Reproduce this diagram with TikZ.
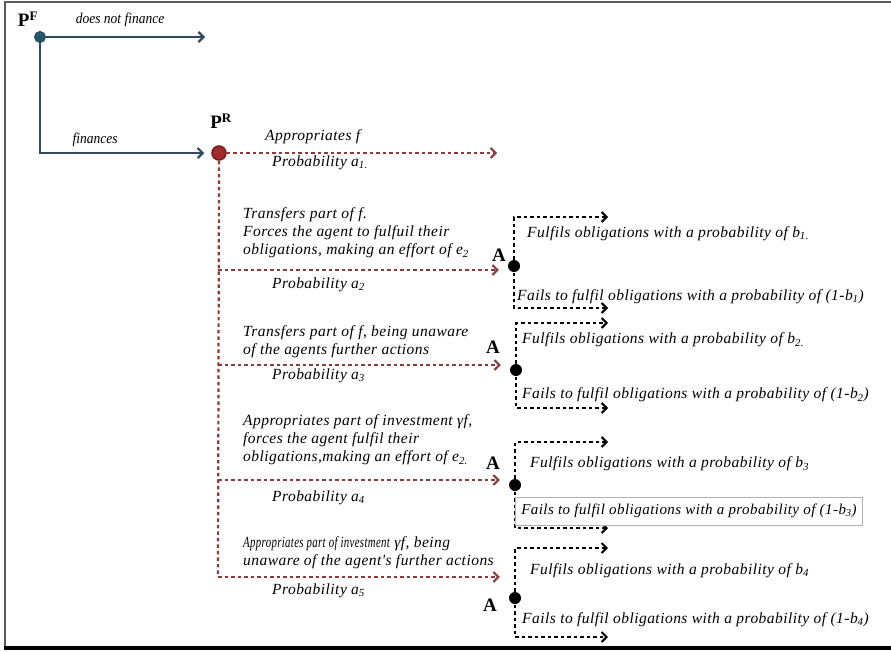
\documentclass[tikz,border=0pt]{standalone}
\usepackage{fontspec}
\setmainfont{Liberation Serif}
\newfontfamily\lbfont[LetterSpace=3]{Liberation Serif}
\usetikzlibrary{arrows.meta}
\definecolor{pfblue}{HTML}{2E4A5C}
\definecolor{pfdot}{HTML}{1F5A70}
\definecolor{prred}{HTML}{A32B2B}
\definecolor{dotred}{HTML}{8E3A3A}
\tikzset{
  lbl/.style={anchor=west, inner sep=0pt, font=\lbfont\fontsize{15.5}{18}\selectfont\itshape, align=left},
  tiny/.style={inner sep=0pt, font=\fontsize{15}{16}\selectfont\itshape},
  big/.style={inner sep=0pt, font=\fontsize{19}{22}\selectfont\bfseries},
  solidarr/.style={draw=pfblue, line width=2.6pt, -{Straight Barb[length=5pt,width=10pt,line width=2.2pt]}},
  redarr/.style={draw=dotred, line width=2.2pt, dash pattern=on 3.5pt off 3pt, -{Straight Barb[length=5pt,width=10pt,line width=2pt]}},
  redline/.style={draw=dotred, line width=2.2pt, dash pattern=on 3.5pt off 3pt},
  blkarr/.style={draw=black, line width=2.2pt, dash pattern=on 3.5pt off 3pt, -{Straight Barb[length=5pt,width=10pt,line width=2pt]}},
  adot/.style={circle, fill=black, inner sep=0pt, minimum size=12pt},
}
\begin{document}
\begin{tikzpicture}[x=1pt,y=-1pt]
\useasboundingbox (0,0) rectangle (891,651);
% frame
\draw[gray!70!black, line width=2pt] (5,648) -- (5,1.5) -- (891,1.5);
\draw[black, line width=3.5pt] (4,648) -- (891,648);

% P^F
\node[big] (pflab) at (28,19) {P\textsuperscript{\fontsize{13}{14}\selectfont F}};
\node[circle, fill=pfdot, draw=pfblue, line width=1pt, inner sep=0pt, minimum size=11pt] (pf) at (40,37) {};
\coordinate (nf) at (205,37);
\node[tiny, xscale=0.9] (nflab) at (120,20) {does not finance};
\node[tiny, xscale=0.9] (finlab) at (95,140) {finances};

% P^R
\node[circle, fill=prred, draw=prred!70!black, line width=1.5pt, inner sep=0pt, minimum size=14pt] (pr) at (219,153) {};
\node[big] (prlab) at (221,121) {P\textsuperscript{\fontsize{13}{14}\selectfont R}};

\draw[solidarr] (pf) -- (nf);
\draw[solidarr] (pf.center) |- ([xshift=-7pt]pr.west);

% red branches
\coordinate (b1e) at (497,153);
\coordinate (v2) at (218,270);
\coordinate (v3) at (218,365);
\coordinate (v4) at (218,480);
\coordinate (v5) at (218,577);
\draw[redline] (pr.south) -- (v5);
\draw[redarr] (pr.east) -- (b1e);

\node[lbl] (t1a) at (265,137) {Appropriates f};
\node[lbl] (t1b) at (272,163) {Probability a\textsubscript{1.}};

\node[lbl] (t2) at (243,233) {Transfers part of f.\\Forces the agent to fulfuil their\\obligations, making an effort of e\textsubscript{2}};
\node[lbl] (t2b) at (272,285) {Probability a\textsubscript{2}};

\node[lbl] (t3) at (243,342) {Transfers part of f, being unaware\\of the agents further actions};
\node[lbl] (t3b) at (272,376) {Probability a\textsubscript{3}};

\node[lbl] (t4) at (243,440) {Appropriates part of investment γf,\\forces the agent fulfil their\\obligations,making an effort of e\textsubscript{2.}};
\node[lbl] (t4b) at (272,498) {Probability a\textsubscript{4}};

\node[lbl] (t5) at (243,553) {\scalebox{0.7}[1]{Appropriates part of investment} γf, being\\unaware of the agent's further actions};
\node[lbl] (t5b) at (272,591) {Probability a\textsubscript{5}};

% A nodes
\node[adot] (a1) at (514,266) {};
\node[adot] (a2) at (516,370) {};
\node[adot] (a3) at (515,485) {};
\node[adot] (a4) at (515,598) {};
\node[big] (a1l) at (499,255) {A};
\node[big] (a2l) at (493,347) {A};
\node[big] (a3l) at (493,463) {A};
\node[big] (a4l) at (490,605) {A};

\draw[redarr] (v2) -- ([xshift=-9pt]a1.west |- v2);
\draw[redarr] (v3) -- ([xshift=-9pt]a2.west |- v3);
\draw[redarr] (v4) -- ([xshift=-9pt]a3.west |- v4);
\draw[redarr] (v5) -- ([xshift=-9pt]a4.west |- v5);

% group ends
\coordinate (g1t) at (608,217);
\coordinate (g1b) at (608,308);
\coordinate (g2t) at (608,323);
\coordinate (g2b) at (608,408);
\coordinate (g3t) at (608,442);
\coordinate (g3b) at (608,528);
\coordinate (g4t) at (608,548);
\coordinate (g4b) at (608,637);

\draw[blkarr] (a1.center) |- (g1t);
\draw[blkarr] (a1.center) |- (g1b);
\draw[blkarr] (a2.center) |- (g2t);
\draw[blkarr] (a2.center) |- (g2b);
\draw[blkarr] (a3.center) |- (g3t);
\draw[blkarr] (a3.center) |- (g3b);
\draw[blkarr] (a4.center) |- (g4t);
\draw[blkarr] (a4.center) |- (g4b);

\node[lbl] (f1) at (527,234) {Fulfils obligations with a probability of b\textsubscript{1.}};
\node[lbl] (x1) at (517,297) {Fails to fulfil obligations with a probability of (1-b\textsubscript{1})};
\node[lbl] (f2) at (522,340) {Fulfils obligations with a probability of b\textsubscript{2.}};
\node[lbl] (x2) at (522,395) {Fails to fulfil obligations with a probability of (1-b\textsubscript{2})};
\node[lbl] (f3) at (530,464) {Fulfils obligations with a probability of b\textsubscript{3}};
\node[lbl, draw=gray!60, fill=white, line width=1pt, inner xsep=5pt, minimum height=28pt, minimum width=347pt, font=\lbfont\fontsize{15}{18}\selectfont\itshape] (x3) at (515,511) {Fails to fulfil obligations with a probability of (1-b\textsubscript{3})};
\node[lbl] (f4) at (530,571) {Fulfils obligations with a probability of b\textsubscript{4}};
\node[lbl] (x4) at (522,620) {Fails to fulfil obligations with a probability of (1-b\textsubscript{4})};
\end{tikzpicture}
\end{document}
